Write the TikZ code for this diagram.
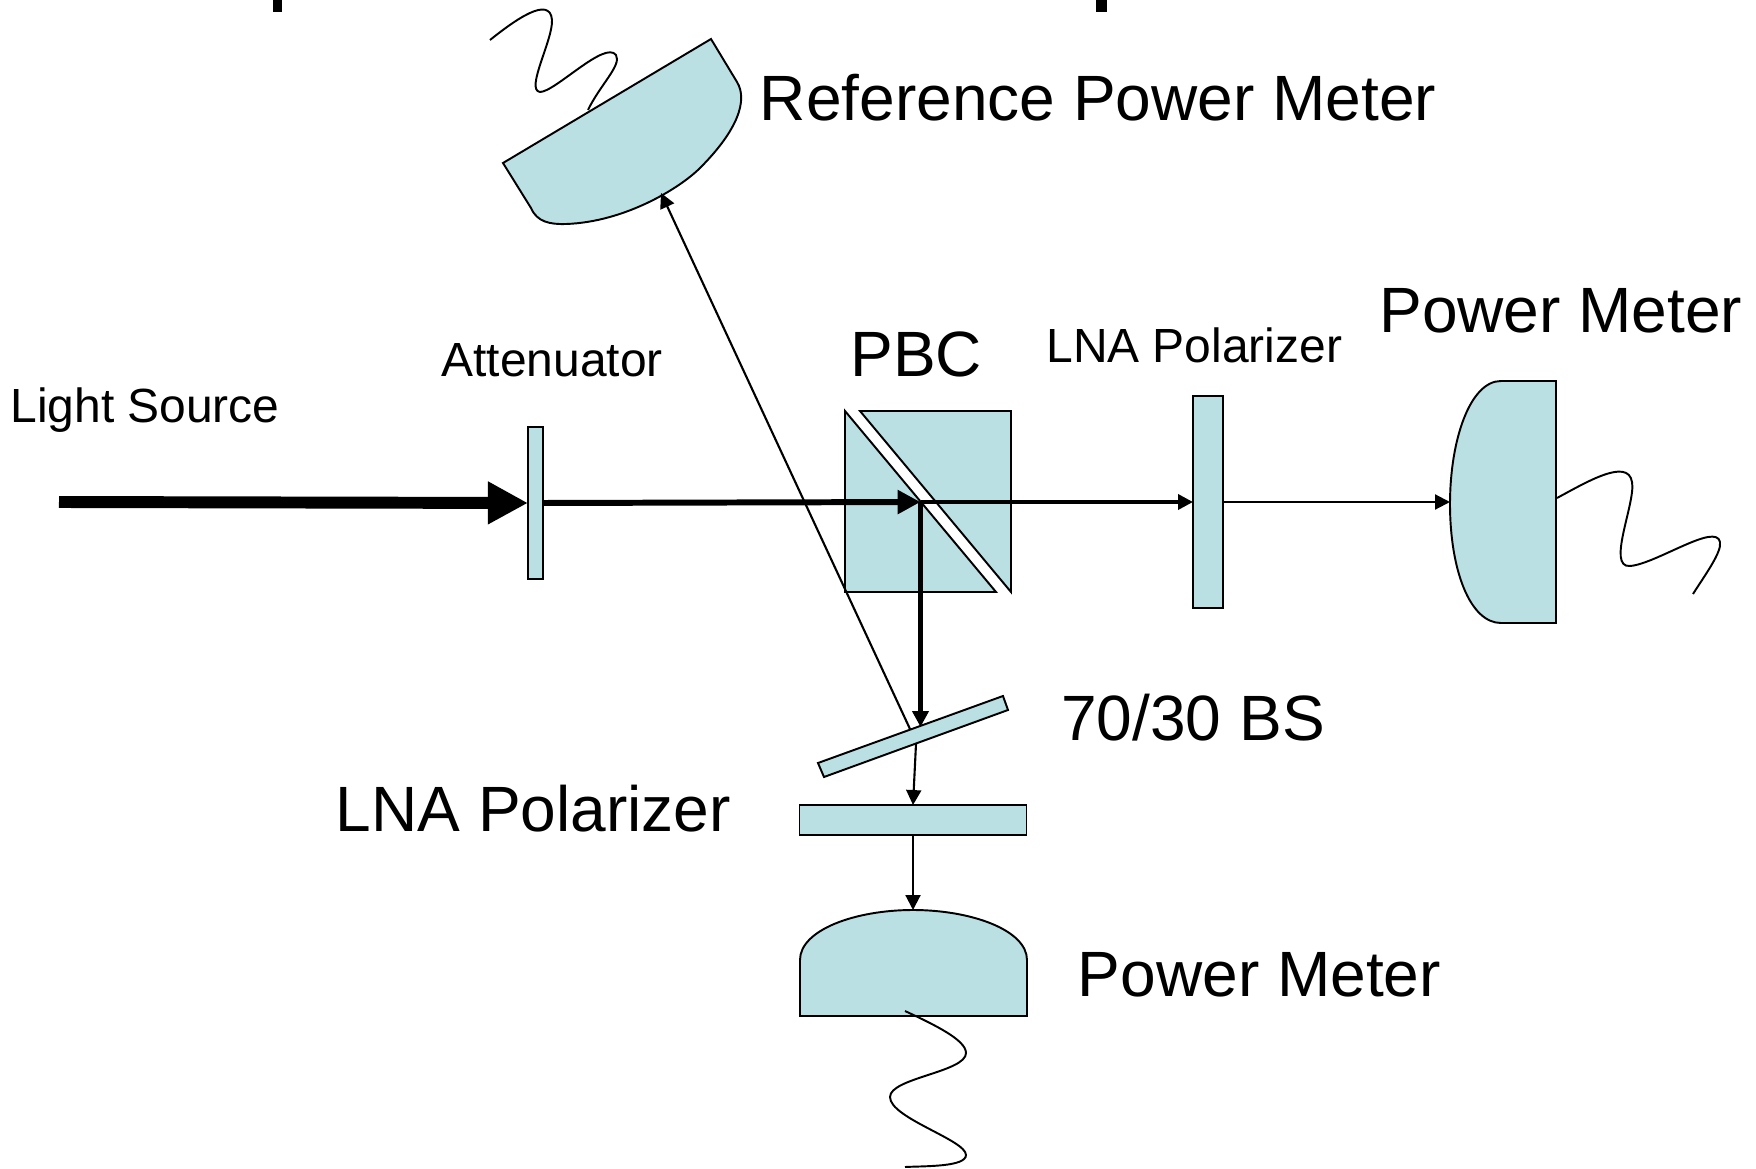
\documentclass[tikz,border=0pt]{standalone}
\usepackage{fontspec}
\setmainfont{Liberation Sans}
\usetikzlibrary{arrows.meta}
\definecolor{optic}{HTML}{BBE0E3}
\tikzset{
  part/.style={draw=black, fill=optic, line width=1.1pt, line join=miter},
  platenode/.style={part, rectangle, inner sep=0pt, outer sep=0pt},
  wire/.style={line width=1.1pt, line cap=butt},
  biglabel/.style={anchor=base west, inner sep=0pt, font=\fontsize{36.45}{40}\selectfont},
  smalllabel/.style={anchor=base west, inner sep=0pt, font=\fontsize{27.3}{32}\selectfont},
  thinbeam/.style={line width=1.2pt, -{Triangle[length=8.5pt,width=8.5pt]}},
  splitbeam/.style={line width=2pt, -{Triangle[length=8.5pt,width=8.5pt]}},
  midbeam/.style={line width=2.4pt, -{Triangle[length=9pt,width=9pt]}},
  fatbeam/.style={line width=3.4pt, -{Triangle[length=13pt,width=13pt]}},
  hugebeam/.style={line width=6.8pt, -{Triangle[length=22.8pt,width=22.8pt]}}
}
\begin{document}
\begin{tikzpicture}[x=0.02cm, y=-0.02cm]
  \useasboundingbox (0,0) rectangle (1756,1169);

  % cut-off title
  \fill (273,0) rectangle (282,12.5);
  \fill (1096,0) rectangle (1107,12.5);

  % reference meter
  \draw[wire] (490,40) .. controls (515,20) and (550,-5) .. (552,20)
    .. controls (553,40) and (525,90) .. (540,92)
    .. controls (555,92) and (605,40) .. (616,55)
    .. controls (622,65) and (600,85) .. (588,110);
  \draw[part] (711,39) -- (737,82) .. controls (748,100) and (738,130) .. (700,168)
    .. controls (680,188) and (625,222) .. (566,224)
    .. controls (550,224.5) and (537,222) .. (531,208) -- (503,163) -- cycle;
  \coordinate (refin) at (661,193);

  % splitter cube
  \draw[part] (845,411) -- (845,592) -- (996,592) -- cycle;
  \draw[part] (860,411) -- (1011,411) -- (1011,592) -- cycle;
  \coordinate (split) at (920.5,502);

  % plates
  \node[platenode, minimum width=0.3cm, minimum height=3.04cm] (atten) at (535.5,503) {};
  \node[platenode, minimum width=0.6cm, minimum height=4.24cm] (polright) at (1208,502) {};
  \node[platenode, minimum width=4.54cm, minimum height=0.6cm] (pollow) at (913,820) {};
  \draw[part] (818,763) -- (1003,696) -- (1008,710) -- (824,777) -- cycle;
  \coordinate (bsin) at (920.5,727);
  \coordinate (bsback) at (910,729);
  \coordinate (bsout) at (916,744);

  % right meter
  \draw[part] (1556,381) -- (1501,381) .. controls (1470,381) and (1450,440) .. (1450,504)
    .. controls (1450,570) and (1470,623) .. (1501,623) -- (1556,623) -- cycle;
  \coordinate (rightin) at (1450,502);
  \draw[wire] (1557,498) .. controls (1585,483) and (1628,457) .. (1632,482)
    .. controls (1636,502) and (1606,568) .. (1630,566)
    .. controls (1656,564) and (1716,522) .. (1720,542)
    .. controls (1722,552) and (1705,575) .. (1693,594);

  % lower meter
  \draw[part] (800,1016) -- (800,960) .. controls (800,930) and (855,910) .. (913,910)
    .. controls (971,910) and (1027,930) .. (1027,960) -- (1027,1016) -- cycle;
  \coordinate (lowin) at (913,910);
  \draw[wire] (905,1011) .. controls (935,1025) and (966,1040) .. (966,1053)
    .. controls (966,1072) and (890,1078) .. (890,1097)
    .. controls (890,1118) and (966,1140) .. (966,1155)
    .. controls (966,1167) and (925,1166) .. (905,1167);

  % beams
  \coordinate (source) at (59,502);
  \draw[thinbeam] (bsback) -- (refin);
  \draw[hugebeam] (source) -- (atten.west);
  \draw[splitbeam] (split) -- (polright.west);
  \draw[thinbeam] (polright.east) -- (rightin);
  \draw[fatbeam] (atten.east) -- (split);
  \draw[midbeam] (split) -- (bsin);
  \draw[thinbeam] (bsout) -- (pollow.north);
  \draw[thinbeam] (pollow.south) -- (lowin);

  % labels
  \node[biglabel] (reflabel) at (759.5,121) {Reference Power Meter};
  \node[biglabel] (rightlabel) at (1379,333) {Power Meter};
  \node[smalllabel] (polrightlabel) at (1046,362.5) {LNA Polarizer};
  \node[biglabel] (cubelabel) at (850,377) {PBC};
  \node[smalllabel] (attenlabel) at (441,377) {Attenuator};
  \node[smalllabel] (sourcelabel) at (10,422) {Light Source};
  \node[biglabel] (bslabel) at (1061,740) {70/30 BS};
  \node[biglabel] (pollowlabel) at (335.5,831) {LNA Polarizer};
  \node[biglabel] (lowlabel) at (1077.5,996.5) {Power Meter};
\end{tikzpicture}
\end{document}
